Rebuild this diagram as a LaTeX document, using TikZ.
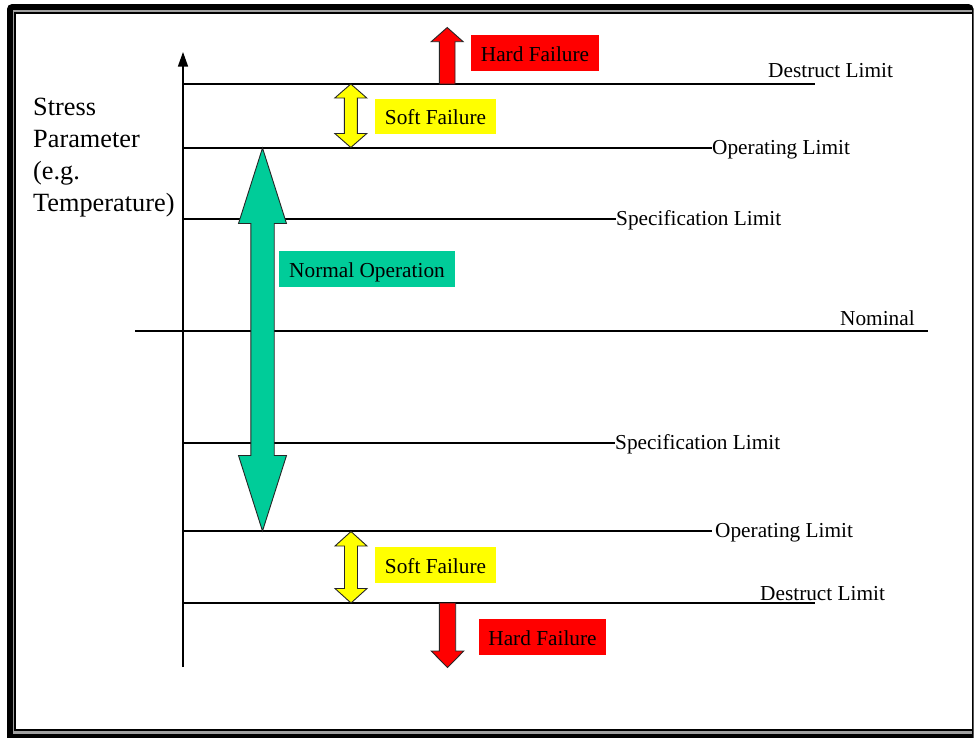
\documentclass[tikz,border=0pt]{standalone}
\usepackage{fontspec}
\setmainfont{Liberation Serif}
\usetikzlibrary{arrows.meta}
\definecolor{normgreen}{RGB}{0,204,153}
\definecolor{softyellow}{RGB}{255,255,0}
\definecolor{hardred}{RGB}{255,0,0}
\definecolor{framegray}{RGB}{160,160,160}

% vertical block arrow with heads at both ends:
% #1 x, #2 top tip, #3 bottom tip, #4 head half-width, #5 shaft half-width, #6 head length, #7 fill
\newcommand\DoubleBlockArrow[7]{%
  \filldraw[blockarrow, fill=#7]
    (#1,#2) -- ({#1+#4},{#2+#6}) -- ({#1+#5},{#2+#6}) -- ({#1+#5},{#3-#6})
    -- ({#1+#4},{#3-#6}) -- (#1,#3) -- ({#1-#4},{#3-#6}) -- ({#1-#5},{#3-#6})
    -- ({#1-#5},{#2+#6}) -- ({#1-#4},{#2+#6}) -- cycle;}
% vertical block arrow with one head:
% #1 x, #2 tail y, #3 tip y, #4 head half-width, #5 shaft half-width, #6 head length, #7 fill
\newcommand\SingleBlockArrow[7]{%
  \pgfmathsetmacro\sgnA{(#3>#2) ? 1 : -1}%
  \filldraw[blockarrow, fill=#7]
    ({#1-#5},#2) -- ({#1+#5},#2) -- ({#1+#5},{#3-\sgnA*#6}) -- ({#1+#4},{#3-\sgnA*#6})
    -- (#1,#3) -- ({#1-#4},{#3-\sgnA*#6}) -- ({#1-#5},{#3-\sgnA*#6}) -- cycle;}

\begin{document}
\begin{tikzpicture}[x=1pt,y=-1pt,
  limitline/.style={line width=1.2pt},
  blockarrow/.style={draw=black!85, line width=0.9pt, line join=miter},
  lbl/.style={inner sep=0pt, font=\fontsize{21.3}{25}\selectfont},
  tag/.style={inner sep=0pt, font=\fontsize{21.3}{25}\selectfont,
              minimum height=36pt, text height=16pt, text depth=0pt},
]
\useasboundingbox (0,0) rectangle (974,737);
\clip (0,0) rectangle (974,737);

% frame: heavy black band, grey gap, thin inner rule
\fill[black, rounded corners=5pt] (7,4) rectangle (973.6,760);
\fill[framegray] (12.5,10.3) rectangle (972,733.8);
\filldraw[fill=white, draw=black, line width=1.4pt] (15,13) rectangle (972.6,730);

% axis title
\node[inner sep=0pt, anchor=north west, align=left,
      font=\fontsize{26.3}{32}\selectfont] (title) at (33,97.5)
  {Stress\\Parameter\\(e.g.\\Temperature)};

% stress axis
\coordinate (axisbot) at (183,667);
\coordinate (axistop) at (183,52);
\draw[line width=1.3pt, -{Triangle[width=10pt,length=14.5pt]}] (axisbot) -- (axistop);

% limit labels
\node[lbl, anchor=base west] (destT) at (768,77.5) {Destruct Limit};
\node[lbl, anchor=base west] (operT) at (712,154) {Operating Limit};
\node[lbl, anchor=base west] (specT) at (616,225.5) {Specification Limit};
\node[lbl, anchor=base west] (nom)   at (840,325.5) {Nominal};
\node[lbl, anchor=base west] (specB) at (615,449.5) {Specification Limit};
\node[lbl, anchor=base west] (operB) at (715,537.5) {Operating Limit};
\node[lbl, anchor=base west] (destB) at (760,600.5) {Destruct Limit};

% limit lines
\coordinate (destT-l) at (183,84);   \coordinate (destT-r) at (815,84);
\coordinate (operT-l) at (183,148);  \coordinate (operT-r) at (712,148);
\coordinate (specT-l) at (183,219);  \coordinate (specT-r) at (616,219);
\coordinate (nom-l)   at (135,331);  \coordinate (nom-r)   at (928,331);
\coordinate (specB-l) at (183,443);  \coordinate (specB-r) at (615,443);
\coordinate (operB-l) at (183,531);  \coordinate (operB-r) at (712,531);
\coordinate (destB-l) at (183,603);  \coordinate (destB-r) at (815,603);
\foreach \n in {destT,operT,specT,nom,specB,operB,destB}
  \draw[limitline] (\n-l) -- (\n-r);

% block arrows
\DoubleBlockArrow{262.5}{148}{531}{24}{11.7}{75.5}{normgreen}
\DoubleBlockArrow{350.8}{84}{147.5}{16}{6.5}{14}{softyellow}
\DoubleBlockArrow{351}{531.5}{603}{16}{6.5}{14.5}{softyellow}
\SingleBlockArrow{447.2}{84}{27.5}{16}{7.8}{14.2}{hardred}
\SingleBlockArrow{447.5}{603}{667.5}{16.3}{8.2}{16.5}{hardred}

% region tags
\node[tag, fill=hardred,    minimum width=128pt] (hardT) at (535,53)     {Hard Failure};
\node[tag, fill=softyellow, minimum width=121pt, minimum height=35pt] (softT) at (435.5,116.5) {Soft Failure};
\node[tag, fill=normgreen,  minimum width=176pt] (normal) at (367,269)   {Normal Operation};
\node[tag, fill=softyellow, minimum width=121pt] (softB) at (435.5,565)  {Soft Failure};
\node[tag, fill=hardred,    minimum width=127pt] (hardB) at (542.5,637)  {Hard Failure};
\end{tikzpicture}
\end{document}
